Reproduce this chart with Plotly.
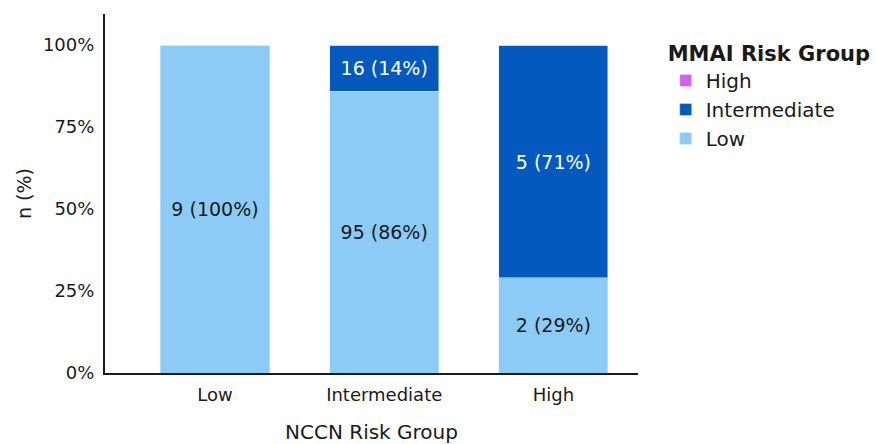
import plotly.graph_objects as go

categories = ["Low", "Intermediate", "High"]
low_pct = [100, 86, 29]
inter_pct = [0, 14, 71]
high_pct = [0, 0, 0]
low_n = [9, 95, 2]
inter_n = [0, 16, 5]
high_n = [0, 0, 0]
y_ticks = [0, 25, 50, 75, 100]
y_tick_labels = ["0%", "25%", "50%", "75%", "100%"]

FONT = "DejaVu Sans, sans-serif"

def labels(ns, ps):
    return [f"{n} ({p}%)" if n > 0 else "" for n, p in zip(ns, ps)]

fig = go.Figure()
fig.add_bar(x=categories, y=low_pct, name="Low", marker_color="#8BCBF5",
            text=labels(low_n, low_pct), textposition="inside",
            insidetextanchor="middle", textfont=dict(color="#1a1a1a", size=19, family=FONT),
            width=0.645)
fig.add_bar(x=categories, y=inter_pct, name="Intermediate", marker_color="#0459BE",
            text=labels(inter_n, inter_pct), textposition="inside",
            insidetextanchor="middle", textfont=dict(color="white", size=19, family=FONT),
            width=0.645)
fig.add_bar(x=categories, y=high_pct, name="High", marker_color="#D262EC",
            text=labels(high_n, high_pct), textposition="inside",
            insidetextanchor="middle", textfont=dict(color="white", size=19, family=FONT),
            width=0.645)

fig.update_layout(
    barmode="stack",
    width=875, height=444,
    margin=dict(l=105, r=237, t=14, b=71, autoexpand=False),
    plot_bgcolor="white", paper_bgcolor="white",
    font=dict(family=FONT, color="#1a1a1a", size=18),
    uniformtext=dict(mode="show", minsize=10),
    legend=dict(
        title=dict(text="<b>MMAI Risk Group</b>", font=dict(size=21)),
        traceorder="reversed",
        x=1.052, xanchor="left", y=0.945, yanchor="top",
        font=dict(size=20),
        itemwidth=30, tracegroupgap=0,
    ),
    xaxis=dict(
        range=[-0.65, 2.5],
        showline=True, linecolor="#1a1a1a", linewidth=2,
        ticks="", showgrid=False,
        automargin=False,
        ticklabelstandoff=4,
        title=dict(text="NCCN Risk Group", font=dict(size=20), standoff=30),
        tickfont=dict(size=18),
    ),
    yaxis=dict(
        range=[0, 109.5],
        tickvals=y_ticks, ticktext=y_tick_labels,
        showline=True, linecolor="#1a1a1a", linewidth=2,
        ticks="", showgrid=False, zeroline=False,
        automargin=False,
        ticklabelstandoff=5,
        title=dict(text="n (%)", font=dict(size=19), standoff=6),
        tickfont=dict(size=18),
    ),
)

fig.write_html("out.html")
